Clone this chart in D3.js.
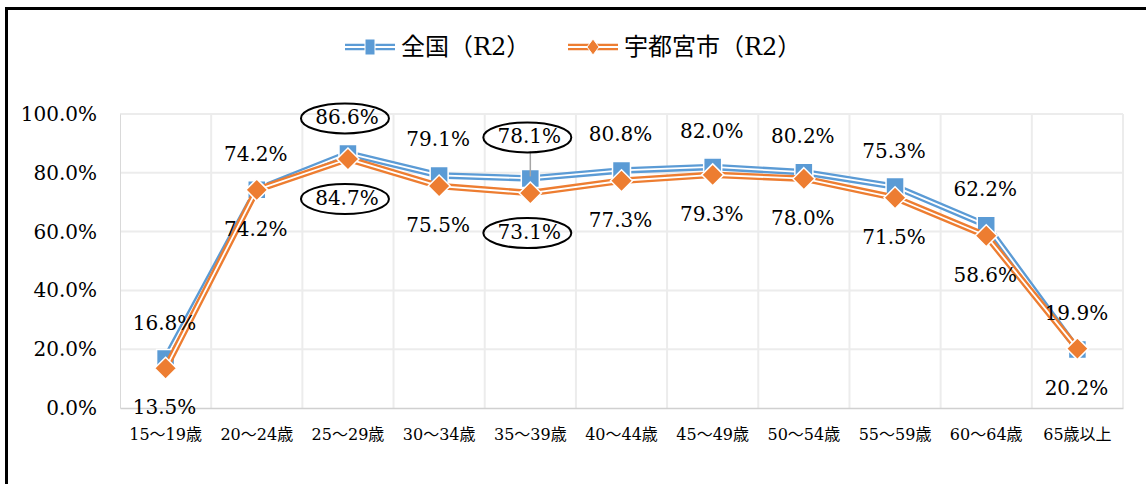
<!DOCTYPE html>
<html>
<head>
  <meta charset="utf-8" />
  <title>年齢階級別就業率</title>
  <script src="https://d3js.org/d3.v7.min.js"></script>
</head>
<body>
  <div id='graph'></div>
</body>
<style>
  body { margin: 0; background: #fff; }
  svg { display: block; }
  text { font-family: 'DejaVu Serif', 'Noto Sans CJK JP', serif; fill: #000; }
</style>
<script>
  // data
  var categories = ['15～19歳', '20～24歳', '25～29歳', '30～34歳', '35～39歳', '40～44歳',
    '45～49歳', '50～54歳', '55～59歳', '60～64歳', '65歳以上']
  var zenkoku = [16.8, 74.2, 86.6, 79.1, 78.1, 80.8, 82.0, 80.2, 75.3, 62.2, 19.9]
  var utsunomiya = [13.5, 74.2, 84.7, 75.5, 73.1, 77.3, 79.3, 78.0, 71.5, 58.6, 20.2]
  var yTicks = [0, 20, 40, 60, 80, 100]
  var seriesNames = ['全国（R2）', '宇都宮市（R2）']
  var circled = [2, 4]

  var W = 1146, H = 484
  var plot = {left: 120, right: 1123, top: 114, bottom: 408}
  var blue = '#5B9BD5', orange = '#ED7D31'

  const svg = d3.select('#graph').append('svg')
    .attr('width', W)
    .attr('height', H)

  // frame (only top and left edges are visible)
  svg.append('line').attr('x1', 6).attr('x2', W).attr('y1', 8.5).attr('y2', 8.5)
    .attr('stroke', '#000').attr('stroke-width', 3)
  svg.append('line').attr('x1', 6.5).attr('x2', 6.5).attr('y1', 7).attr('y2', H)
    .attr('stroke', '#000').attr('stroke-width', 3)

  var x = d3.scaleBand().domain(categories).range([plot.left, plot.right])
  var y = d3.scaleLinear().domain([0, 100]).range([plot.bottom, plot.top])
  var cx = function (i) { return x(categories[i]) + x.bandwidth() / 2 }

  // grid
  const grid = svg.append('g')
  grid.selectAll('.hgrid')
    .data(yTicks.slice(1))
    .enter().append('line')
    .attr('x1', plot.left).attr('x2', plot.right)
    .attr('y1', d => y(d)).attr('y2', d => y(d))
    .attr('stroke', '#ececec').attr('stroke-width', 2)
  grid.selectAll('.vgrid')
    .data(categories.slice(1).map(c => x(c)).concat([plot.right]))
    .enter().append('line')
    .attr('x1', d => d).attr('x2', d => d)
    .attr('y1', plot.top).attr('y2', plot.bottom)
    .attr('stroke', '#ececec').attr('stroke-width', 2)

  // axes
  const yAxis = svg.append('g')
    .attr('transform', 'translate(' + plot.left + ',0)')
    .call(d3.axisLeft(y).tickValues(yTicks).tickSize(0).tickPadding(23)
      .tickFormat(d => d.toFixed(1) + '%'))
  yAxis.select('.domain').attr('stroke', '#d9d9d9').attr('stroke-width', 1)
  yAxis.selectAll('text').attr('font-size', 20).attr('font-family', null)

  const xAxis = svg.append('g')
    .attr('transform', 'translate(0,' + plot.bottom + ')')
    .call(d3.axisBottom(x).tickSize(0))
  xAxis.select('.domain').attr('stroke', '#d0d0d0').attr('stroke-width', 1.5)
  xAxis.selectAll('text').attr('font-size', 16).attr('font-family', null)
    .attr('y', 26).attr('dy', '0.35em')

  // double line + markers
  function drawSeries (values, color, marker) {
    var line = d3.line().x((d, i) => cx(i)).y(d => y(d))
    svg.append('path').datum(values)
      .attr('d', line).attr('fill', 'none')
      .attr('stroke', color).attr('stroke-width', 6.5).attr('stroke-linejoin', 'round')
    svg.append('path').datum(values)
      .attr('d', line).attr('fill', 'none')
      .attr('stroke', '#fff').attr('stroke-width', 1.8).attr('stroke-linejoin', 'round')
    svg.append('g').selectAll('path')
      .data(values).enter().append('path')
      .attr('transform', (d, i) => 'translate(' + cx(i) + ',' + y(d) + ')')
      .attr('d', marker)
      .attr('fill', color).attr('stroke', '#fff').attr('stroke-width', 1.5)
  }
  var square = 'M-9,-9H9V9H-9Z'
  var diamond = 'M0,-11L11,0L0,11L-11,0Z'

  drawSeries(zenkoku, blue, square)
  drawSeries(utsunomiya, orange, diamond)

  // leader line for the moved label
  svg.append('line')
    .attr('x1', cx(4)).attr('x2', cx(4))
    .attr('y1', y(zenkoku[4]) - 27).attr('y2', y(zenkoku[4]) - 2)
    .attr('stroke', '#a6a6a6').attr('stroke-width', 1.5)

  // data labels
  function labelY (d, s) {
    return s === 0 ? y(d) - 36 : y(d) + 39
  }
  ;[zenkoku, utsunomiya].forEach(function (values, s) {
    svg.append('g').selectAll('text')
      .data(values).enter().append('text')
      .attr('x', (d, i) => cx(i) - 1)
      .attr('y', (d, i) => labelY(d, s) - (s === 0 && i === 4 ? 6 : 0))
      .attr('text-anchor', 'middle')
      .attr('dominant-baseline', 'central')
      .attr('font-size', 20)
      .text(d => d.toFixed(1) + '%')

    svg.append('g').selectAll('ellipse')
      .data(circled).enter().append('ellipse')
      .attr('cx', i => cx(i) - 3)
      .attr('cy', i => labelY(values[i], s) - (s === 0 && i === 4 ? 6 : 0) + 1)
      .attr('rx', 44).attr('ry', 15)
      .attr('fill', 'none').attr('stroke', '#000').attr('stroke-width', 2)
  })

  // legend
  const legend = svg.append('g')
  var legendItems = [
    {name: seriesNames[0], color: blue, marker: 'M-5,-8H5V8H-5Z', x: 345},
    {name: seriesNames[1], color: orange, marker: 'M0,-8L6,0L0,8L-6,0Z', x: 568}
  ]
  legendItems.forEach(function (it) {
    var g = legend.append('g').attr('transform', 'translate(' + it.x + ',47)')
    g.append('line').attr('x1', 0).attr('x2', 50)
      .attr('stroke', it.color).attr('stroke-width', 6.5)
    g.append('line').attr('x1', 0).attr('x2', 50)
      .attr('stroke', '#fff').attr('stroke-width', 1.8)
    g.append('path').attr('transform', 'translate(25,0)').attr('d', it.marker)
      .attr('fill', it.color).attr('stroke', '#fff').attr('stroke-width', 1)
    g.append('text').attr('x', 56).attr('dominant-baseline', 'central')
      .attr('font-size', 24).text(it.name)
  })
</script>
</html>
